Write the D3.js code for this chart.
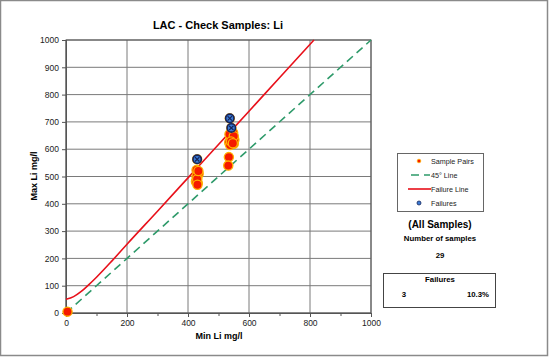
<!DOCTYPE html>
<html><head><meta charset="utf-8">
<script src="https://cdn.jsdelivr.net/npm/d3@7"></script>
<style>body{margin:0;background:#fff}svg{display:block;font-family:"Liberation Sans",Arial,sans-serif}</style>
</head><body>
<svg id="c" width="549" height="357"></svg>
<script>
// Data
const sampleMin = [5, 428,432,430,426,432,435,428,430,434,431,
  534,532, 540,545,535,550,542,548,538,552,545,536,550,541,547];
const sampleMax = [5, 524,505,494,482,476,510,500,490,520,470,
  571,540, 640,630,625,620,650,660,615,635,645,655,648,628,622];
const failMin = [430, 537, 542];
const failMax = [563, 713, 678];
const lineMinDiag = [0, 1000];
const lineMaxDiag = [0, 1000];
const failLineMin = [0, 25, 50, 75, 100, 150, 200, 300, 400, 500, 600, 700, 813];
const failLineMax = [50, 60, 79, 104, 131, 190, 252, 373, 495, 617, 739, 862, 1000];
const xTicks = [0, 200, 400, 600, 800, 1000];
const yTicks = [0,100,200,300,400,500,600,700,800,900,1000];
const totalSamples = 29, failCount = 3, failPct = "10.3%";

const svg = d3.select("#c");
svg.append("rect").attr("x",0.5).attr("y",0.5).attr("width",547).attr("height",355)
  .attr("fill","#fff").attr("stroke","#8a8a8a").attr("stroke-width",1.5);

const L=66, R=371, T=40, B=313;
const x = d3.scaleLinear().domain([0,1000]).range([L,R]);
const y = d3.scaleLinear().domain([0,1000]).range([B,T]);

// gridlines
const g = svg.append("g");
g.selectAll(".vg").data(xTicks).join("line")
  .attr("x1",d=>x(d)).attr("x2",d=>x(d)).attr("y1",T).attr("y2",B)
  .attr("stroke","#7a7a7a").attr("stroke-width",1);
g.selectAll(".hg").data(yTicks).join("line")
  .attr("x1",L).attr("x2",R).attr("y1",d=>y(d)).attr("y2",d=>y(d))
  .attr("stroke","#7a7a7a").attr("stroke-width",1);
svg.append("rect").attr("x",L).attr("y",T).attr("width",R-L).attr("height",B-T)
  .attr("fill","none").attr("stroke","#555").attr("stroke-width",1);

// axes
const fmt = d3.format("d");
svg.append("g").attr("transform",`translate(0,${B})`)
  .call(d3.axisBottom(x).tickValues(xTicks).tickSize(4).tickPadding(3).tickFormat(fmt));
svg.append("g").attr("transform",`translate(0,${B})`)
  .call(d3.axisBottom(x).tickValues(d3.range(100,1000,200)).tickSize(3).tickFormat(""))
  .call(a=>a.select(".domain").remove());
svg.append("g").attr("transform",`translate(${L},0)`)
  .call(d3.axisLeft(y).tickValues(yTicks).tickSize(4).tickPadding(3).tickFormat(fmt));
svg.selectAll(".tick text").attr("font-size",8.5).attr("fill","#222")
  .attr("font-family","Liberation Sans, Arial, sans-serif");
svg.selectAll(".tick line").attr("stroke","#555");
svg.selectAll(".domain").attr("stroke","#555");

// 45 line
svg.append("line").attr("x1",x(lineMinDiag[0])).attr("y1",y(lineMaxDiag[0]))
  .attr("x2",x(lineMinDiag[1])).attr("y2",y(lineMaxDiag[1]))
  .attr("stroke","#2e9a6a").attr("stroke-width",1.6).attr("stroke-dasharray","8,5");

// failure line
const fl = failLineMin.map((d,i)=>[d,failLineMax[i]]);
svg.append("path").datum(fl)
  .attr("d", d3.line().x(d=>x(d[0])).y(d=>y(d[1])).curve(d3.curveMonotoneX))
  .attr("fill","none").attr("stroke","#e8101a").attr("stroke-width",1.6);

// sample pairs
const sp = sampleMin.map((d,i)=>[d,sampleMax[i]]).concat(failMin.map((d,i)=>[d,failMax[i]]));
svg.append("g").selectAll("circle").data(sp).join("circle")
  .attr("cx",d=>x(d[0])).attr("cy",d=>y(d[1])).attr("r",4.6)
  .attr("fill","#f51a00").attr("stroke","#ffb000").attr("stroke-width",1.3);

// failures
const fp = failMin.map((d,i)=>[d,failMax[i]]);
const fg = svg.append("g").selectAll("g").data(fp).join("g")
  .attr("transform",d=>`translate(${x(d[0])},${y(d[1])})`);
fg.append("circle").attr("r",4.2).attr("fill","#3a7bd5").attr("stroke","#15245a").attr("stroke-width",1.6);
fg.append("path").attr("d","M-2.2,-2.2L2.2,2.2M-2.2,2.2L2.2,-2.2").attr("stroke","#15245a").attr("stroke-width",1.2);

// titles
svg.append("text").attr("x",218).attr("y",29).attr("text-anchor","middle")
  .attr("font-size",11).attr("font-weight","bold").text("LAC - Check Samples: Li");
svg.append("text").attr("x",219).attr("y",339).attr("text-anchor","middle")
  .attr("font-size",9).attr("font-weight","bold").text("Min Li mg/l");
svg.append("text").attr("transform","translate(37,176) rotate(-90)").attr("text-anchor","middle")
  .attr("font-size",9).attr("font-weight","bold").text("Max Li mg/l");

// legend
const lg = svg.append("g");
lg.append("rect").attr("x",397.5).attr("y",153.5).attr("width",86).attr("height",58)
  .attr("fill","#fff").attr("stroke","#666").attr("stroke-width",1);
const ly = [161,175,189,203];
const labels = ["Sample Pairs","45\u00b0 Line","Failure Line","Failures"];
lg.selectAll("text").data(labels).join("text").attr("x",431).attr("y",(d,i)=>ly[i]+3)
  .attr("font-size",7.2).attr("fill","#222").text(d=>d);
lg.append("circle").attr("cx",419).attr("cy",ly[0]).attr("r",1.8).attr("fill","#f51a00").attr("stroke","#ffb000").attr("stroke-width",0.8);
lg.append("line").attr("x1",411).attr("x2",430).attr("y1",ly[1]).attr("y2",ly[1])
  .attr("stroke","#2e9a6a").attr("stroke-width",1.6).attr("stroke-dasharray","8,5");
lg.append("line").attr("x1",408).attr("x2",431).attr("y1",ly[2]).attr("y2",ly[2])
  .attr("stroke","#e8101a").attr("stroke-width",1.6);
lg.append("circle").attr("cx",419).attr("cy",ly[3]).attr("r",2).attr("fill","#3a7bd5").attr("stroke","#15245a").attr("stroke-width",0.8);

svg.append("text").attr("x",440).attr("y",228).attr("text-anchor","middle")
  .attr("font-size",10).attr("font-weight","bold").text("(All Samples)");
svg.append("text").attr("x",440).attr("y",241).attr("text-anchor","middle")
  .attr("font-size",7.8).attr("font-weight","bold").text("Number of samples");
svg.append("text").attr("x",440).attr("y",258).attr("text-anchor","middle")
  .attr("font-size",7.8).attr("font-weight","bold").text(totalSamples);
svg.append("rect").attr("x",383.5).attr("y",273.5).attr("width",112).attr("height",34)
  .attr("fill","#fff").attr("stroke","#444").attr("stroke-width",1);
svg.append("text").attr("x",440).attr("y",282).attr("text-anchor","middle")
  .attr("font-size",7.8).attr("font-weight","bold").text("Failures");
svg.append("text").attr("x",404).attr("y",297).attr("text-anchor","middle")
  .attr("font-size",7.8).attr("font-weight","bold").text(failCount);
svg.append("text").attr("x",489).attr("y",297).attr("text-anchor","end")
  .attr("font-size",7.8).attr("font-weight","bold").text(failPct);
</script>
</body></html>
